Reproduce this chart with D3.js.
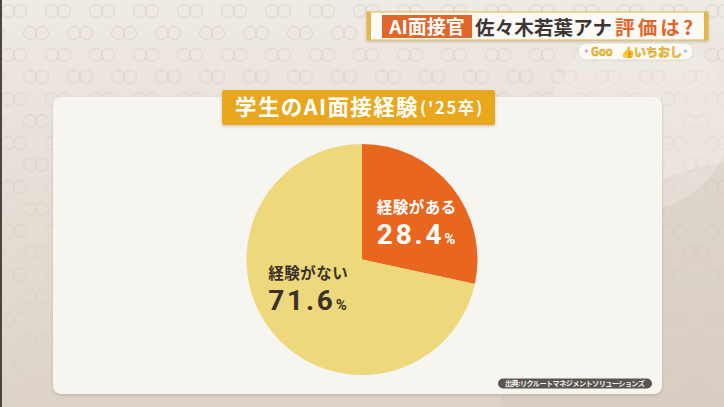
<!DOCTYPE html>
<html><head><meta charset="utf-8">
<script src="https://cdn.jsdelivr.net/npm/d3@7"></script>
<style>
html,body{margin:0;padding:0;background:#e4dcd2;}
svg{display:block;font-family:"Noto Sans CJK JP","Noto Sans",sans-serif;}
</style></head>
<body>
<script>
const categories = ["経験がある", "経験がない"];
const values = [28.4, 71.6];
const valueLabels = ["28.4", "71.6"];
const sliceColors = ["#e8661e", "#edd97c"];
const labelColors = ["#ffffff", "#3b3128"];
const chartTitle = "学生のAI面接経験";
const chartSubtitle = "('25卒)";
const sourceText = "出典:リクルートマネジメントソリューションズ";

const W = 724, H = 407;
const svg = d3.select("body").append("svg").attr("width", W).attr("height", H);
const defs = svg.append("defs");

// background
const bgGrad = defs.append("linearGradient").attr("id","bg").attr("x1",0).attr("y1",0).attr("x2",0).attr("y2",1);
bgGrad.append("stop").attr("offset","0%").attr("stop-color","#efeae4");
bgGrad.append("stop").attr("offset","35%").attr("stop-color","#e8e1d9");
bgGrad.append("stop").attr("offset","100%").attr("stop-color","#ddd3c8");
svg.append("rect").attr("width",W).attr("height",H).attr("fill","url(#bg)");

// circle pattern
const pat = defs.append("pattern").attr("id","circ").attr("patternUnits","userSpaceOnUse")
  .attr("width",44).attr("height",44);
[[8,11],[20,11],[30,33],[42,33],[-2,33]].forEach(([x,y])=>{
  pat.append("circle").attr("cx",x).attr("cy",y).attr("r",6.5).attr("fill","none")
    .attr("stroke","#d9cfc4").attr("stroke-width",1.3).attr("opacity",0.55);
});
svg.append("rect").attr("width",W).attr("height",H).attr("fill","url(#circ)");

// large soft circle shapes on the right
svg.append("circle").attr("cx",760).attr("cy",420).attr("r",260).attr("fill","#cfc3b6").attr("opacity",0.35);
svg.append("circle").attr("cx",640).attr("cy",120).attr("r",90).attr("fill","#f3efe9").attr("opacity",0.35);

// left dark border
svg.append("rect").attr("x",0).attr("y",0).attr("width",2).attr("height",H).attr("fill","#4a4540");

// panel
const sh = defs.append("filter").attr("id","sh").attr("x","-10%").attr("y","-10%").attr("width","120%").attr("height","130%");
sh.append("feDropShadow").attr("dx",0).attr("dy",1.5).attr("stdDeviation",1.5).attr("flood-color","#8a7a68").attr("flood-opacity",0.35);
svg.append("rect").attr("x",53).attr("y",97).attr("width",609).attr("height",297).attr("rx",8)
  .attr("fill","#f7f5f0").attr("filter","url(#sh)");

// title badge
svg.append("rect").attr("x",222).attr("y",90).attr("width",273).attr("height",35).attr("rx",2)
  .attr("fill","#e8a71e").attr("filter","url(#sh)");
const tt = svg.append("text").attr("x",235).attr("y",115)
  .attr("fill","#ffffff").attr("font-weight",700);
tt.append("tspan").attr("font-size",21.5).attr("letter-spacing",1.4).text(chartTitle);
tt.append("tspan").attr("font-size",16.5).attr("letter-spacing",1.7).attr("dx",1).attr("dy",-1).text(chartSubtitle);

// top banner
const ban = svg.append("g");
ban.append("rect").attr("x",367).attr("y",12).attr("width",341).attr("height",28)
  .attr("fill","#fbfaf6").attr("stroke","#e2b748").attr("stroke-width",1).attr("filter","url(#sh)");
ban.append("rect").attr("x",367).attr("y",12).attr("width",4).attr("height",28).attr("fill","#e2b748");
ban.append("rect").attr("x",704).attr("y",12).attr("width",4).attr("height",28).attr("fill","#e2b748");
ban.append("rect").attr("x",382).attr("y",15).attr("width",90).attr("height",23).attr("fill","#e1662a");
ban.append("text").attr("x",427).attr("y",34).attr("text-anchor","middle").attr("fill","#fff")
  .attr("font-size",19).attr("font-weight",700).text("AI面接官");
ban.append("text").attr("x",475).attr("y",34.5).attr("fill","#3d3632")
  .attr("font-size",19.5).attr("font-weight",700).attr("textLength",137).text("佐々木若葉アナ");
ban.append("text").attr("x",615).attr("y",34.5).attr("fill","#e1662a")
  .attr("font-size",19.5).attr("font-weight",700).attr("textLength",78).text("評価は?");

// Good pill
ban.append("rect").attr("x",578).attr("y",43).attr("width",115).attr("height",17).attr("rx",8.5)
  .attr("fill","#fbf9f3").attr("stroke","#ddd3c3").attr("stroke-width",0.8);
ban.append("text").attr("x",591).attr("y",56).attr("fill","#f1c234").attr("stroke","#c9961a").attr("stroke-width",0.4)
  .attr("font-size",11).attr("font-weight",700).text("Goo");
ban.append("text").attr("x",621).attr("y",56).attr("fill","#efb52a")
  .attr("font-size",11).attr("font-weight",700).text("👍");
ban.append("text").attr("x",634).attr("y",56.5).attr("fill","#f1c234").attr("stroke","#c9961a").attr("stroke-width",0.4)
  .attr("font-size",12).attr("font-weight",700).text("いちおし");
ban.append("text").attr("x",583).attr("y",54).attr("fill","#c9a3e0").attr("font-size",8).text("✦");
ban.append("text").attr("x",682).attr("y",54).attr("fill","#9cc6e8").attr("font-size",8).text("✦");

// pie
const cx = 362, cy = 259.5, R = 115.5;
const pie = d3.pie().sort(null).value(d => d.value);
const data = categories.map((c,i)=>({cat:c, value:values[i], label:valueLabels[i], color:sliceColors[i], tc:labelColors[i]}));
const arcs = pie(data);
const arc = d3.arc().innerRadius(0).outerRadius(R);
const labelArc = d3.arc().innerRadius(64).outerRadius(64);
const g = svg.append("g").attr("transform",`translate(${cx},${cy})`);
g.selectAll("path").data(arcs).join("path").attr("d",arc).attr("fill",d=>d.data.color);

const nudges = [[5,3],[-4,-12]];
arcs.forEach((a,i)=>{
  const [x,y] = labelArc.centroid(a);
  const lx = x + nudges[i][0], ly = y + nudges[i][1];
  const lg = g.append("g").attr("transform",`translate(${lx},${ly})`);
  lg.append("text").attr("x",-40).attr("y",-9).attr("fill",a.data.tc)
    .attr("font-size",15.5).attr("font-weight",700).attr("letter-spacing",0.5).text(a.data.cat);
  const t = lg.append("text").attr("x",-40).attr("y",22).attr("fill",a.data.tc).attr("font-weight",700)
    .attr("font-family","Roboto, 'DejaVu Sans', sans-serif");
  t.append("tspan").attr("font-size",28).attr("letter-spacing",2.8).text(a.data.label);
  t.append("tspan").attr("font-size",15).attr("dx",0).text("%");
});

// source pill
svg.append("rect").attr("x",498).attr("y",378.5).attr("width",154).attr("height",10).attr("rx",5)
  .attr("fill","#5a5550");
svg.append("text").attr("x",575).attr("y",386.3).attr("text-anchor","middle").attr("fill","#f3f0ea")
  .attr("font-size",7.2).attr("font-weight",700).attr("textLength",140).text(sourceText);
</script>
</body></html>
